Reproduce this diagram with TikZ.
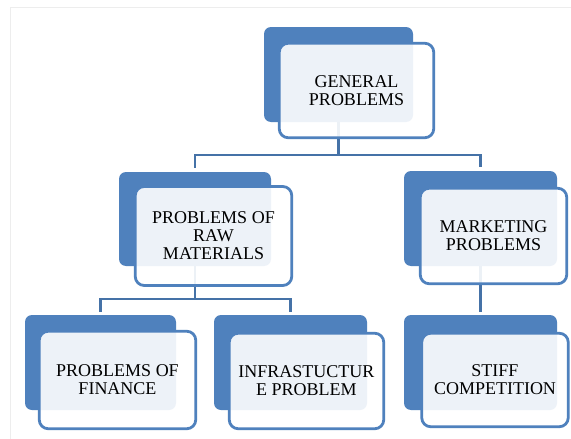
\documentclass[tikz,border=0pt]{standalone}
\usepackage{fontspec}
\setmainfont{Liberation Serif}
\begin{document}
\begin{tikzpicture}[x=1pt,y=-1pt,
  backbox/.style={draw=none, fill=boxblue, rounded corners=7pt, inner sep=0pt, outer sep=0pt},
  frontbox/.style={draw=boxblue, line width=2.8pt, fill=white, fill opacity=0.9, text opacity=1,
    rounded corners=9pt, inner sep=0pt, outer sep=0pt, align=center,
    font=\fontsize{18}{18}\selectfont},
  conn/.style={draw=linkblue, line width=2.8pt},
]
\definecolor{boxblue}{HTML}{4F81BD}
\definecolor{linkblue}{HTML}{4572A7}
\useasboundingbox (0,0) rectangle (571,439);
\fill[white] (0,0) rectangle (571,439);
% faint page frame
\draw[black!7, line width=1pt] (10,439) -- (10,7) -- (571,7);

% back plates
\node[backbox, minimum width=149, minimum height=95] (genB) at (338.5,74.5) {};
\node[backbox, minimum width=152, minimum height=94] (rawB) at (195,219) {};
\node[backbox, minimum width=153, minimum height=95] (mktB) at (480.5,218.5) {};
\node[backbox, minimum width=151, minimum height=95] (finB) at (100.5,362.5) {};
\node[backbox, minimum width=153, minimum height=95] (infB) at (290.5,362.5) {};
\node[backbox, minimum width=153, minimum height=95] (stfB) at (480.5,362.5) {};

% connectors
\coordinate (bus1) at (338.5,155);
\coordinate (bus2) at (195,299);
\draw[conn, shorten >=4pt] (genB.south) -- (bus1) -| (rawB.north);
\draw[conn, shorten >=4pt] (bus1) -| (mktB.north);
\draw[conn, shorten >=3pt] (rawB.south) -- (bus2) -| (finB.north);
\draw[conn, shorten >=3pt] (bus2) -| (infB.north);
\draw[conn, shorten >=3pt] (mktB.south) -- (stfB.north);

% front cards with labels
\node[frontbox, minimum width=154.5, minimum height=94.5] (gen) at (356.5,90.5) {GENERAL\\PROBLEMS};
\node[frontbox, minimum width=156.5, minimum height=99] (raw) at (213.5,236) {PROBLEMS OF\\RAW\\MATERIALS};
\node[frontbox, minimum width=146.5, minimum height=95.5] (mkt) at (493.5,236) {MARKETING\\PROBLEMS};
\node[frontbox, minimum width=156.5, minimum height=97.5] (fin) at (117.5,380) {PROBLEMS OF\\FINANCE};
\node[frontbox, minimum width=154.5, minimum height=95.5] (inf) at (306.5,381) {INFRASTUCTUR\\E PROBLEM};
\node[frontbox, minimum width=146.5, minimum height=93.5] (stf) at (495,380) {STIFF\\COMPETITION};
\end{tikzpicture}
\end{document}
